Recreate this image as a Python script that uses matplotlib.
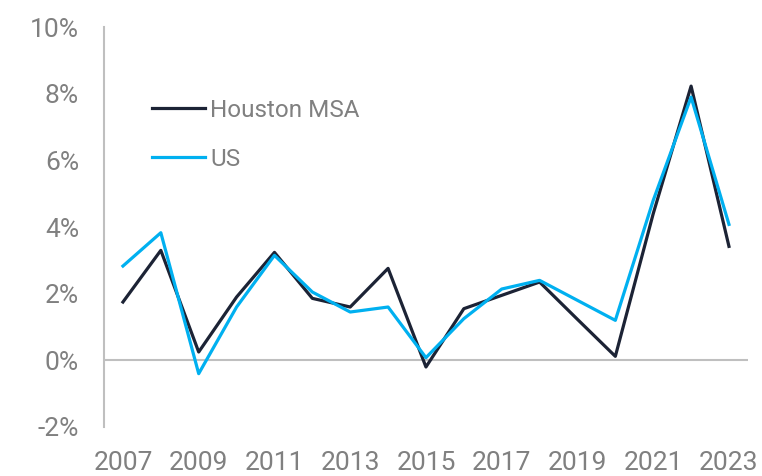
import matplotlib.pyplot as plt
from matplotlib.ticker import FuncFormatter

plt.rcParams['font.family'] = ['Roboto', 'DejaVu Sans']

years = list(range(2007, 2024))
houston = [1.75, 3.3, 0.25, 1.9, 3.24, 1.86, 1.6, 2.76, -0.2, 1.55, 1.95, 2.35, 1.23, 0.12, 4.4, 8.23, 3.42]
us = [2.83, 3.83, -0.4, 1.6, 3.15, 2.05, 1.45, 1.6, 0.08, 1.25, 2.14, 2.4, 1.8, 1.2, 4.8, 7.9, 4.08]
xticks = list(range(2007, 2024, 2))
yticks = [-2, 0, 2, 4, 6, 8, 10]

grey = '#808080'

fig = plt.figure(figsize=(7.62, 4.76), dpi=100)
ax = fig.add_axes([0.1365, 0.103, 0.845, 0.840])

ax.axhline(0, color='#bfbfbf', lw=1.5, zorder=1)
ax.plot(years, houston, color='#1c2335', lw=2.3, label='Houston MSA', zorder=3)
ax.plot(years, us, color='#00b0f0', lw=2.3, label='US', zorder=4)

ax.set_xlim(2006.5, 2023.5)
ax.set_ylim(-2, 10)
ax.set_xticks(xticks)
ax.set_yticks(yticks)
ax.yaxis.set_major_formatter(FuncFormatter(lambda v, p: f'{v:.0f}%'))

for s in ['top', 'right', 'bottom']:
    ax.spines[s].set_visible(False)
ax.spines['left'].set_color('#bfbfbf')
ax.spines['left'].set_linewidth(1.5)

ax.tick_params(axis='both', length=0, colors=grey, labelsize=19)
ax.tick_params(axis='x', pad=17)
ax.tick_params(axis='y', pad=18)

ax.legend(frameon=False, loc='upper left', bbox_to_anchor=(0.04, 0.875),
          fontsize=17.5, handlelength=2.2, handletextpad=0.2, labelspacing=1.05,
          labelcolor=grey)

fig.savefig('out.png', dpi=100)
